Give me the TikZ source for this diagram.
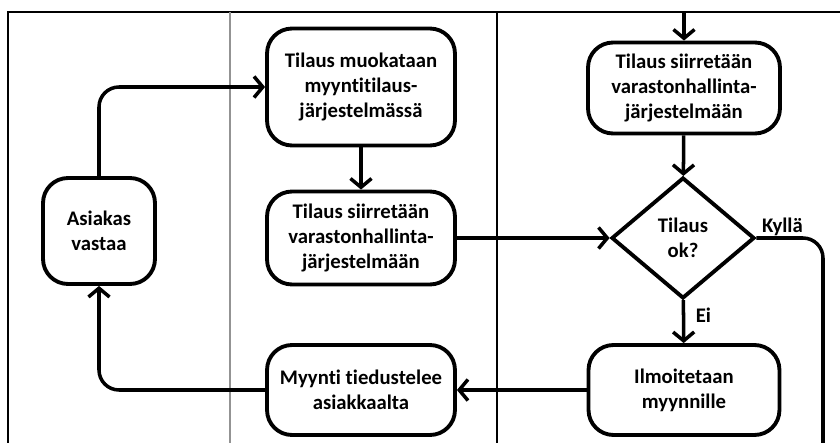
\documentclass[tikz,border=0pt]{standalone}
\usepackage{fontspec}
\setmainfont{Carlito}[Ligatures=NoCommon]
\usetikzlibrary{shapes.geometric, arrows.meta}
\tikzset{
	vaihe/.style = {draw, line width=2.2pt, rounded corners=0.5cm, align=center,
		font=\fontsize{11.8}{14.2}\selectfont\bfseries, inner sep=2pt},
	paatos/.style = {draw, diamond, line width=2.2pt, align=center,
		font=\fontsize{11.8}{14.2}\selectfont\bfseries, inner sep=0pt,
		minimum width=2.86cm, minimum height=2.42cm},
	merkki/.style = {font=\fontsize{11.8}{14.2}\selectfont\bfseries, inner sep=1pt},
	viiva/.style = {line width=2pt},
	nuoli/.style = {line width=2pt, -{Straight Barb[length=5pt, width=12pt, line width=2pt]}}
}

\begin{document}
\begin{tikzpicture}[x=0.02cm, y=-0.02cm]
	\useasboundingbox (0,0) rectangle (840,443);
	% ====== Kaistat ========
	\draw[line width=1.2pt] (8,443) -- (8,12) -- (840,12);
	\draw[line width=1.4pt, gray!85] (230,12) -- (230,443);
	\draw[line width=1.1pt] (497,12) -- (497,443);

	% ====== Vaiheet ========
	\node[vaihe, minimum width=2.24cm, minimum height=2.12cm] (asiakas) at (99,231) {Asiakas\\vastaa};
	\node[vaihe, minimum width=3.76cm, minimum height=2.34cm] (muokkaus) at (361,87) {Tilaus muokataan\\myyntitilaus-\\järjestelmässä};
	\node[vaihe, minimum width=3.76cm, minimum height=1.86cm] (siirto) at (361,238) {Tilaus siirretään\\varastonhallinta-\\järjestelmään};
	\node[vaihe, minimum width=3.76cm, minimum height=1.80cm] (myynti) at (361,390) {Myynti tiedustelee\\asiakkaalta};
	\node[vaihe, minimum width=3.84cm, minimum height=1.82cm] (varasto) at (684,88) {Tilaus siirretään\\varastonhallinta-\\järjestelmään};
	\node[paatos] (tarkistus) at (683,238) {Tilaus\\ok?};
	\node[vaihe, minimum width=3.82cm, minimum height=1.80cm] (ilmoitus) at (684,390) {Ilmoitetaan\\myynnille};

	\coordinate (yla) at (684,12);
	\coordinate (kylla) at (823,443);

	% ====== Nuolet ========
	\draw[nuoli] (yla) -- (varasto);
	\draw[nuoli] (varasto) -- (tarkistus);
	\draw[nuoli] (muokkaus) -- (siirto);
	\draw[nuoli] (siirto.east) -- (tarkistus.west);
	\draw[nuoli] (tarkistus) -- (ilmoitus) node[merkki, right, xshift=5pt, pos=0.35] (ei) {Ei};
	\draw[nuoli] (ilmoitus) -- (myynti);
	\draw[nuoli, rounded corners=0.4cm] (myynti.west) -| (asiakas.south);
	\draw[nuoli, rounded corners=0.4cm] (asiakas.north) |- (muokkaus.west);
	\draw[viiva, rounded corners=0.4cm] (tarkistus.east) -| (kylla);
	\node[merkki, anchor=south west] (kyllateksti) at ([xshift=2pt]tarkistus.east) {Kyllä};
\end{tikzpicture}
\end{document}
